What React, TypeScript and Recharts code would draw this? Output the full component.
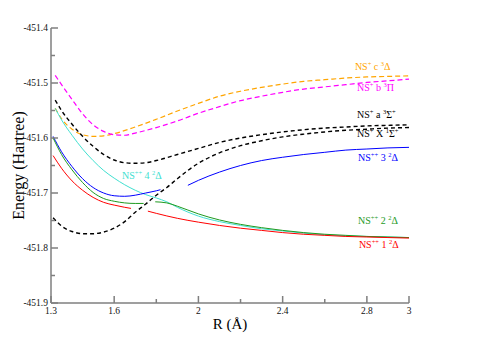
import React from "react";
import { LineChart, Line, XAxis, YAxis, ReferenceDot } from "recharts";

type Pt = { R: number; E: number };
const mk = (rows: number[][]): Pt[] => rows.map(([R, E]) => ({ R, E }));

// NS+ c 3Δ
const cDelta = mk([
  [1.32, -451.546], [1.35, -451.565], [1.4, -451.584], [1.45, -451.594], [1.5, -451.597],
  [1.55, -451.596], [1.6, -451.592], [1.7, -451.58], [1.8, -451.566], [1.9, -451.551],
  [2.0, -451.537], [2.1, -451.524], [2.2, -451.515], [2.3, -451.508], [2.4, -451.502],
  [2.5, -451.497], [2.6, -451.494], [2.7, -451.491], [2.8, -451.489], [2.9, -451.488], [3.0, -451.487],
]);
// NS+ b 3Π
const bPi = mk([
  [1.32, -451.486], [1.35, -451.503], [1.4, -451.53], [1.45, -451.556], [1.5, -451.576],
  [1.55, -451.588], [1.6, -451.594], [1.65, -451.595], [1.7, -451.591], [1.8, -451.581],
  [1.9, -451.569], [2.0, -451.555], [2.1, -451.543], [2.2, -451.532], [2.3, -451.524],
  [2.4, -451.517], [2.5, -451.511], [2.6, -451.507], [2.7, -451.503], [2.8, -451.499],
  [2.9, -451.496], [3.0, -451.493],
]);
// NS+ a 3Σ+
const aSigma = mk([
  [1.32, -451.531], [1.35, -451.55], [1.4, -451.575], [1.45, -451.597], [1.5, -451.615],
  [1.55, -451.63], [1.6, -451.64], [1.65, -451.645], [1.7, -451.646], [1.75, -451.645],
  [1.8, -451.641], [1.9, -451.63], [2.0, -451.619], [2.1, -451.608], [2.2, -451.6],
  [2.3, -451.594], [2.4, -451.589], [2.5, -451.585], [2.6, -451.582], [2.7, -451.58],
  [2.8, -451.578], [2.9, -451.577], [3.0, -451.576],
]);
// NS+ X 1Σ+
const xSigma = mk([
  [1.31, -451.745], [1.35, -451.76], [1.4, -451.77], [1.45, -451.774], [1.5, -451.774],
  [1.55, -451.771], [1.6, -451.764], [1.65, -451.752], [1.7, -451.735], [1.75, -451.72],
  [1.8, -451.704], [1.85, -451.69], [1.9, -451.674], [1.95, -451.659], [2.0, -451.646],
  [2.1, -451.627], [2.2, -451.614], [2.3, -451.605], [2.4, -451.598], [2.5, -451.593],
  [2.6, -451.589], [2.7, -451.586], [2.8, -451.584], [2.9, -451.582], [3.0, -451.581],
]);
// NS++ 3 2Δ (two branches)
const d3a = mk([
  [1.31, -451.597], [1.35, -451.625], [1.4, -451.652], [1.45, -451.674], [1.5, -451.69],
  [1.55, -451.7], [1.6, -451.705], [1.65, -451.706], [1.7, -451.704], [1.75, -451.7],
  [1.8, -451.696], [1.82, -451.694],
]);
const d3b = mk([
  [1.95, -451.686], [2.0, -451.677], [2.1, -451.662], [2.2, -451.650], [2.3, -451.641],
  [2.4, -451.635], [2.5, -451.63], [2.6, -451.626], [2.7, -451.622], [2.8, -451.62],
  [2.9, -451.618], [3.0, -451.617],
]);
// NS++ 4 2Δ
const d4 = mk([
  [1.32, -451.546], [1.35, -451.567], [1.4, -451.595], [1.45, -451.62], [1.5, -451.641],
  [1.55, -451.659], [1.6, -451.673], [1.65, -451.685], [1.7, -451.695], [1.75, -451.703],
  [1.8, -451.709], [1.85, -451.716], [1.9, -451.726], [2.0, -451.742], [2.1, -451.752],
  [2.2, -451.759], [2.3, -451.765], [2.4, -451.769], [2.5, -451.773], [2.6, -451.776],
  [2.7, -451.778], [2.8, -451.779], [2.9, -451.78], [3.0, -451.781],
]);
// NS++ 2 2Δ (two branches)
const d2a = mk([
  [1.31, -451.6], [1.35, -451.63], [1.4, -451.658], [1.45, -451.681], [1.5, -451.699],
  [1.55, -451.71], [1.6, -451.715], [1.65, -451.718], [1.7, -451.719], [1.74, -451.719],
]);
const d2b = mk([
  [1.795, -451.716], [1.85, -451.718], [1.9, -451.724], [1.95, -451.731], [2.0, -451.738],
  [2.1, -451.749], [2.2, -451.757], [2.3, -451.763], [2.4, -451.768], [2.5, -451.772],
  [2.6, -451.775], [2.7, -451.777], [2.8, -451.779], [2.9, -451.78], [3.0, -451.781],
]);
// NS++ 1 2Δ (two branches)
const d1a = mk([
  [1.31, -451.632], [1.35, -451.655], [1.4, -451.678], [1.45, -451.695], [1.5, -451.708],
  [1.55, -451.717], [1.6, -451.722], [1.65, -451.726], [1.68, -451.728],
]);
const d1b = mk([
  [1.76, -451.733], [1.8, -451.737], [1.9, -451.746], [2.0, -451.753], [2.1, -451.759],
  [2.2, -451.764], [2.3, -451.768], [2.4, -451.772], [2.5, -451.775], [2.6, -451.777],
  [2.7, -451.779], [2.8, -451.78], [2.9, -451.781], [3.0, -451.782],
]);

const xTicks = [1.3, 1.6, 1.8, 2, 2.2, 2.4, 2.6, 2.8, 3];
const xTickLabels = ["1.3", "1.6", "", "2", "", "2.4", "", "2.8", "3"];
const yTicks = [-451.9, -451.85, -451.8, -451.75, -451.7, -451.65, -451.6, -451.55, -451.5, -451.45, -451.4];
const yTickLabels = ["-451.9", "", "-451.8", "", "-451.7", "", "-451.6", "", "-451.5", "", "-451.4"];

// state labels: anchor (R, E) and text pieces [text, superscript?]
const stateLabels: { R: number; E: number; parts: [string, boolean][] }[] = [
  { R: 2.743, E: -451.477, parts: [["NS", false], ["+", true], [" c ", false], ["3", true], ["Δ", false]] },
  { R: 2.753, E: -451.515, parts: [["NS", false], ["+", true], [" b ", false], ["3", true], ["Π", false]] },
  { R: 2.753, E: -451.564, parts: [["NS", false], ["+", true], [" a ", false], ["3", true], ["Σ", false], ["+", true]] },
  { R: 2.753, E: -451.599, parts: [["NS", false], ["+", true], [" X ", false], ["1", true], ["Σ", false], ["+", true]] },
  { R: 2.758, E: -451.641, parts: [["NS", false], ["++", true], [" 3 ", false], ["2", true], ["Δ", false]] },
  { R: 1.637, E: -451.674, parts: [["NS", false], ["++", true], [" 4 ", false], ["2", true], ["Δ", false]] },
  { R: 2.758, E: -451.756, parts: [["NS", false], ["++", true], [" 2 ", false], ["2", true], ["Δ", false]] },
  { R: 2.762, E: -451.8, parts: [["NS", false], ["++", true], [" 1 ", false], ["2", true], ["Δ", false]] },
];
const labelColors = ["#ffa500", "#ff00ff", "#000000", "#000000", "#0000ff", "#40e0d0", "#1f9a1f", "#ff0000"];

const FONT = "'Liberation Serif', 'Times New Roman', 'DejaVu Serif', serif";
const FRAME = "#7f7f7f";
const near = (a: number, b: number) => Math.abs(a - b) < 1e-6;

const XTick = (p: any) => {
  const i = xTicks.findIndex((t) => near(t, p.payload.value));
  const label = i >= 0 ? xTickLabels[i] : "";
  const axisY = p.y - 4;
  const len = label ? 7 : 4;
  return (
    <g>
      <line x1={p.x} x2={p.x} y1={axisY} y2={axisY - len} stroke={FRAME} strokeWidth={1.5} />
      {label && (
        <text x={p.x} y={p.y} dy="0.71em" textAnchor="middle" fontSize={9.5} fontFamily={FONT} fill="#111">
          {label}
        </text>
      )}
    </g>
  );
};
const XTopTick = (p: any) => {
  const i = xTicks.findIndex((t) => near(t, p.payload.value));
  const len = i >= 0 && xTickLabels[i] ? 7 : 4;
  return <line x1={p.x} x2={p.x} y1={p.y} y2={p.y + len} stroke={FRAME} strokeWidth={1.5} />;
};
const YTick = (p: any) => {
  const i = yTicks.findIndex((t) => near(t, p.payload.value));
  const label = i >= 0 ? yTickLabels[i] : "";
  const axisX = p.x + 3;
  const len = label ? 7 : 4;
  return (
    <g>
      <line x1={axisX} x2={axisX + len} y1={p.y} y2={p.y} stroke={FRAME} strokeWidth={1.5} />
      {label && (
        <text x={p.x} y={p.y} dy="0.35em" textAnchor="end" fontSize={9.5} fontFamily={FONT} fill="#111">
          {label}
        </text>
      )}
    </g>
  );
};
const YRightTick = (p: any) => {
  const i = yTicks.findIndex((t) => near(t, p.payload.value));
  const len = i >= 0 && yTickLabels[i] ? 7 : 4;
  return <line x1={p.x} x2={p.x - len} y1={p.y} y2={p.y} stroke={FRAME} strokeWidth={1.5} />;
};

const XTitle = (p: any) => {
  const vb = p.viewBox;
  return (
    <text x={vb.x + vb.width / 2} y={vb.y + 26} textAnchor="middle" fontSize={15} fontFamily={FONT} fill="#000">
      R (Å)
    </text>
  );
};
const YTitle = (p: any) => {
  const vb = p.viewBox;
  const cx = 10;
  const cy = vb.y + vb.height / 2;
  return (
    <text
      x={cx}
      y={cy}
      transform={`rotate(-90 ${cx} ${cy})`}
      textAnchor="middle"
      dominantBaseline="central"
      fontSize={16}
      fontFamily={FONT}
      fill="#000"
    >
      Energy (Hartree)
    </text>
  );
};

const makeLabelShape = (idx: number) => (p: any) => {
  const lab = stateLabels[idx];
  const color = labelColors[idx];
  const pieces: React.ReactNode[] = [];
  let raised = false;
  lab.parts.forEach(([t, sup], k) => {
    let dy = 0;
    if (sup && !raised) { dy = -4; raised = true; }
    else if (!sup && raised) { dy = 4; raised = false; }
    pieces.push(
      <tspan key={k} dy={dy} fontSize={sup ? 6.5 : 10}>
        {t.replace(/ /g, "\u00a0")}
      </tspan>
    );
  });
  return (
    <text x={p.cx} y={p.cy} dy={3.5} fontFamily={FONT} fill={color}>
      {pieces}
    </text>
  );
};

const series = [
  { data: cDelta, color: "#ffa500", dash: "5 3", w: 1.2 },
  { data: bPi, color: "#ff00ff", dash: "5 3", w: 1.2 },
  { data: aSigma, color: "#000000", dash: "4 3", w: 1.4 },
  { data: xSigma, color: "#000000", dash: "4 3", w: 1.4 },
  { data: d4, color: "#40e0d0", dash: undefined, w: 1 },
  { data: d3a, color: "#0000ff", dash: undefined, w: 1 },
  { data: d3b, color: "#0000ff", dash: undefined, w: 1 },
  { data: d2a, color: "#1f9a1f", dash: undefined, w: 1 },
  { data: d2b, color: "#1f9a1f", dash: undefined, w: 1 },
  { data: d1a, color: "#ff0000", dash: undefined, w: 1 },
  { data: d1b, color: "#ff0000", dash: undefined, w: 1 },
];

export default function App() {
  return (
    <LineChart width={470} height={330} margin={{ top: 20, right: 69, bottom: 8, left: 0 }}>
      <XAxis
        dataKey="R"
        type="number"
        domain={[1.3, 3]}
        allowDataOverflow
        ticks={xTicks}
        interval={0}
        tickSize={0}
        tickMargin={4}
        tickLine={false}
        tick={XTick}
        height={27}
        axisLine={{ stroke: FRAME, strokeWidth: 1.5 }}
        label={XTitle}
      />
      <XAxis
        xAxisId="top"
        orientation="top"
        dataKey="R"
        type="number"
        domain={[1.3, 3]}
        allowDataOverflow
        ticks={xTicks}
        interval={0}
        tickSize={0}
        tickMargin={0}
        tickLine={false}
        tick={XTopTick}
        height={0}
        axisLine={{ stroke: FRAME, strokeWidth: 1.5 }}
      />
      <YAxis
        dataKey="E"
        type="number"
        domain={[-451.9, -451.4]}
        allowDataOverflow
        ticks={yTicks}
        interval={0}
        tickSize={0}
        tickMargin={3}
        tickLine={false}
        tick={YTick}
        width={43}
        axisLine={{ stroke: FRAME, strokeWidth: 1.5 }}
        label={YTitle}
      />
      <YAxis
        yAxisId="right"
        orientation="right"
        dataKey="E"
        type="number"
        domain={[-451.9, -451.4]}
        allowDataOverflow
        ticks={yTicks}
        interval={0}
        tickSize={0}
        tickMargin={0}
        tickLine={false}
        tick={YRightTick}
        width={0}
        axisLine={{ stroke: FRAME, strokeWidth: 1.5 }}
      />
      {series.map((s, i) => (
        <Line
          key={i}
          data={s.data}
          dataKey="E"
          type="monotone"
          stroke={s.color}
          strokeWidth={s.w}
          strokeDasharray={s.dash}
          dot={false}
          activeDot={false}
          isAnimationActive={false}
        />
      ))}
      {stateLabels.map((l, i) => (
        <ReferenceDot key={i} x={l.R} y={l.E} r={0} ifOverflow="visible" shape={makeLabelShape(i)} />
      ))}
    </LineChart>
  );
}
